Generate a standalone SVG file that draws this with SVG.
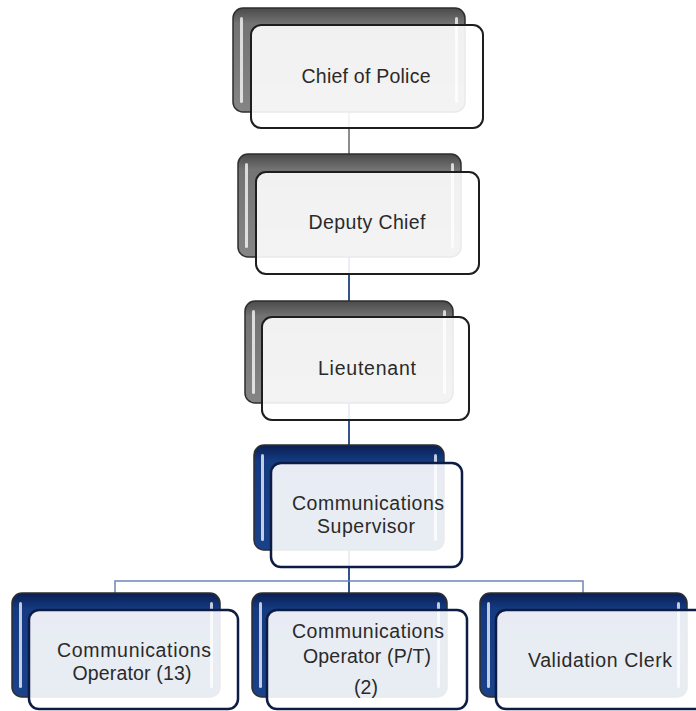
<svg xmlns="http://www.w3.org/2000/svg" width="696" height="711" viewBox="0 0 696 711">
<style>
.txt{font-family:"Liberation Sans",Arial,sans-serif;font-size:19.5px;fill:#2a2a2a;text-anchor:middle}
.bg{stroke:#2e2e2e;stroke-width:1.5}
.gray-back{fill:url(#grayGrad)}
.navy-back{fill:url(#navyGrad)}
.front{fill:#fff;fill-opacity:0.9;stroke:#1e1e1e;stroke-width:2}
.front-n{fill:#fff;fill-opacity:0.9;stroke:#0c1c44;stroke-width:2.5}
.hl{fill:#fff;fill-opacity:0.75}
.cg{stroke:#8c8c8c;stroke-width:2;fill:none}
.cn{stroke:#34548f;stroke-width:2;fill:none}
.ch{stroke:#6d85b8;stroke-width:1.5;fill:none}
</style>
<defs>
<linearGradient id="grayGrad" x1="0" y1="0" x2="0" y2="1">
<stop offset="0" stop-color="#4a4a4a"/>
<stop offset="0.15" stop-color="#737373"/>
<stop offset="1" stop-color="#858585"/>
</linearGradient>
<linearGradient id="navyGrad" x1="0" y1="0" x2="0" y2="1">
<stop offset="0" stop-color="#0a1f52"/>
<stop offset="0.15" stop-color="#143a82"/>
<stop offset="1" stop-color="#1a428a"/>
</linearGradient>
</defs>
<g id="connectors">
<line class="cg" x1="349" y1="112" x2="349" y2="154"/>
<line class="cn" x1="349" y1="257" x2="349" y2="301"/>
<line class="cn" x1="349" y1="403" x2="349" y2="445"/>
<line class="cn" x1="349" y1="550" x2="349" y2="593"/>
<polyline class="ch" points="115,593 115,581 583,581 583,593"/>
</g>
<g id="chief">
<rect class="bg gray-back" x="233" y="8" width="232" height="104" rx="10"/>
<rect class="hl" x="240" y="17" width="3" height="86" rx="1.5"/>
<rect class="hl" x="455" y="17" width="3" height="86" rx="1.5"/>
<rect class="front" x="251" y="25" width="232" height="103" rx="10"/>
<text class="txt" x="366" y="83" textLength="129" lengthAdjust="spacing">Chief of Police</text>
</g>
<g id="deputy">
<rect class="bg gray-back" x="238" y="154" width="223" height="103" rx="10"/>
<rect class="hl" x="245" y="163" width="3" height="85" rx="1.5"/>
<rect class="hl" x="451" y="163" width="3" height="85" rx="1.5"/>
<rect class="front" x="256" y="172" width="223" height="102" rx="10"/>
<text class="txt" x="367" y="229" textLength="117" lengthAdjust="spacing">Deputy Chief</text>
</g>
<g id="lieutenant">
<rect class="bg gray-back" x="245" y="301" width="208" height="102" rx="10"/>
<rect class="hl" x="252" y="310" width="3" height="84" rx="1.5"/>
<rect class="hl" x="443" y="310" width="3" height="84" rx="1.5"/>
<rect class="front" x="262" y="317" width="207" height="103" rx="10"/>
<text class="txt" x="367" y="375" textLength="98" lengthAdjust="spacing">Lieutenant</text>
</g>
<g id="supervisor">
<rect class="bg navy-back" x="254" y="445" width="190" height="105" rx="10"/>
<rect class="hl" x="261" y="454" width="3" height="87" rx="1.5"/>
<rect class="hl" x="434" y="454" width="3" height="87" rx="1.5"/>
<rect class="front-n" x="271" y="463" width="191" height="104" rx="10"/>
<text class="txt" x="368" y="510" textLength="152" lengthAdjust="spacing">Communications</text>
<text class="txt" x="366" y="533" textLength="98" lengthAdjust="spacing">Supervisor</text>
</g>
<g id="operator13">
<rect class="bg navy-back" x="12" y="593" width="208" height="104" rx="10"/>
<rect class="hl" x="19" y="602" width="3" height="86" rx="1.5"/>
<rect class="hl" x="210" y="602" width="3" height="86" rx="1.5"/>
<rect class="front-n" x="29" y="610" width="209" height="99" rx="10"/>
<text class="txt" x="134" y="657" textLength="154" lengthAdjust="spacing">Communications</text>
<text class="txt" x="132" y="680" textLength="119" lengthAdjust="spacing">Operator (13)</text>
</g>
<g id="operatorPT">
<rect class="bg navy-back" x="252" y="593" width="195" height="104" rx="10"/>
<rect class="hl" x="259" y="602" width="3" height="86" rx="1.5"/>
<rect class="hl" x="437" y="602" width="3" height="86" rx="1.5"/>
<rect class="front-n" x="267" y="610" width="200" height="99" rx="10"/>
<text class="txt" x="368" y="638" textLength="152" lengthAdjust="spacing">Communications</text>
<text class="txt" x="367" y="663" textLength="128" lengthAdjust="spacing">Operator (P/T)</text>
<text class="txt" x="366" y="694">(2)</text>
</g>
<g id="validation">
<rect class="bg navy-back" x="480" y="593" width="207" height="104" rx="10"/>
<rect class="hl" x="487" y="602" width="3" height="86" rx="1.5"/>
<rect class="hl" x="677" y="602" width="3" height="86" rx="1.5"/>
<rect class="front-n" x="496" y="610" width="210" height="99" rx="10"/>
<text class="txt" x="600" y="667" textLength="144" lengthAdjust="spacing">Validation Clerk</text>
</g>
</svg>
